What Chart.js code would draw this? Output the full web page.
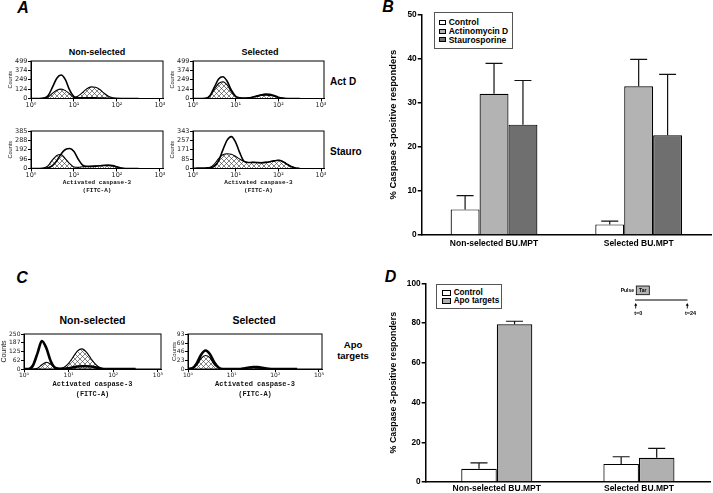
<!DOCTYPE html>
<html>
<head>
<meta charset="utf-8">
<script src="https://cdn.jsdelivr.net/npm/chart.js@4.4.1/dist/chart.umd.min.js"></script>
<style>
  body { margin: 0; background: #fff; }
  #page { position: relative; width: 713px; height: 493px; overflow: hidden; font-family: 'Liberation Sans', Arial, sans-serif; }
  canvas { position: absolute; }
  .lbl { position: absolute; font-weight: bold; white-space: nowrap; line-height: 1; transform: translate(-50%, -50%); color: #000; }
  .side { transform: translate(0, -50%); }
  .panel { font-size: 16px; font-style: italic; }
  .legend { position: absolute; box-sizing: border-box; border: 1px solid #555; background: #fff; }
  .legend-item { display: flex; align-items: center; font-weight: bold; white-space: nowrap; }
  .legend-color-box { display: inline-block; flex-shrink: 0; box-sizing: border-box; border: 1px solid #000; }
</style>
</head>
<body>
<div id="page">
  <div class="lbl panel" style="left:23px;top:7.5px">A</div>
  <div class="lbl panel" style="left:388px;top:7px">B</div>
  <div class="lbl panel" style="left:22px;top:278px">C</div>
  <div class="lbl panel" style="left:390.5px;top:277px">D</div>

  <div class="lbl" style="left:97px;top:51.7px;font-size:9px">Non-selected</div>
  <div class="lbl" style="left:260px;top:51.7px;font-size:9px">Selected</div>
  <div class="lbl side" style="left:330px;top:81.7px;font-size:10px">Act D</div>
  <div class="lbl side" style="left:330px;top:151.5px;font-size:10px">Stauro</div>
  <div class="lbl" style="left:92.5px;top:320px;font-size:10.5px">Non-selected</div>
  <div class="lbl" style="left:254px;top:320px;font-size:10.5px">Selected</div>
  <div class="lbl" style="left:353px;top:350.3px;font-size:9.5px;line-height:1.1;text-align:center">Apo<br>targets</div>

  <canvas id="histActdNonsel"></canvas>
  <canvas id="histStauroNonsel"></canvas>
  <canvas id="histActdSel"></canvas>
  <canvas id="histStauroSel"></canvas>
  <canvas id="histApoNonsel"></canvas>
  <canvas id="histApoSel"></canvas>

  <canvas id="barsB" width="333" height="258" style="left:380px;top:0px"></canvas>
  <canvas id="barsD" width="333" height="243" style="left:380px;top:250px"></canvas>

  <div id="legendB" class="legend" style="left:434px;top:11.5px;width:79px;height:37px;padding:5.5px 0 0 3.5px"></div>
  <div id="legendD" class="legend" style="left:435.7px;top:284px;width:66px;height:25px;padding:3.7px 0 0 5px"></div>
</div>

<script>
// Histogram x positions, in decades (log10 of FITC-A)
const LOG_X = [0.0, 0.1, 0.2, 0.3, 0.4, 0.5, 0.6, 0.7, 0.8, 0.9, 1.0, 1.1, 1.2, 1.3, 1.4, 1.5, 1.6, 1.7, 1.8, 1.9, 2.0, 2.1, 2.2, 2.3, 2.4, 2.5];
const DECADE_TICKS = [0, 1, 2, 3];
const DECADE_LABELS = ['10⁰', '10¹', '10²', '10³'];

// Counts: open = solid outline, hatched = cross-hatched histogram
const ACTD_NONSEL_OPEN    = [0, 0, 0, 5, 40, 150, 270, 312, 250, 110, 25, 10, 8, 8, 8, 8, 6, 5, 3, 1, 0, 0, 0, 0, 0, 0];
const ACTD_NONSEL_HATCHED = [0, 0, 0, 2, 20, 70, 110, 125, 105, 60, 12, 35, 80, 130, 155, 150, 120, 70, 30, 10, 2, 0, 0, 0, 0, 0];
const STAURO_NONSEL_OPEN    = [0, 0, 0, 2, 8, 30, 80, 150, 195, 206, 175, 95, 35, 22, 22, 24, 28, 33, 35, 30, 18, 5, 0, 0, 0, 0];
const STAURO_NONSEL_HATCHED = [0, 0, 0, 5, 30, 90, 135, 144, 100, 50, 15, 12, 18, 20, 22, 25, 28, 30, 30, 25, 12, 3, 0, 0, 0, 0];
const ACTD_SEL_OPEN    = [0, 0, 0, 3, 40, 150, 260, 289, 230, 110, 30, 8, 5, 8, 20, 35, 50, 58, 55, 40, 18, 5, 0, 0, 0, 0];
const ACTD_SEL_HATCHED = [0, 0, 0, 2, 30, 120, 200, 222, 180, 90, 25, 6, 4, 6, 15, 28, 40, 45, 42, 30, 12, 3, 0, 0, 0, 0];
const STAURO_SEL_OPEN    = [2, 3, 4, 5, 8, 20, 70, 170, 260, 292, 240, 140, 65, 55, 56, 55, 53, 56, 62, 70, 75, 65, 40, 18, 5, 0];
const STAURO_SEL_HATCHED = [0, 0, 0, 3, 10, 40, 90, 125, 135, 130, 110, 85, 65, 55, 56, 55, 53, 56, 62, 70, 75, 65, 40, 18, 5, 0];
const APO_NONSEL_OPEN    = [0, 0, 25, 110, 200, 150, 55, 8, 1, 1, 5, 12, 18, 20, 20, 18, 12, 4, 0, 0, 0, 0, 0, 0, 0, 0];
const APO_NONSEL_HATCHED = [0, 0, 0, 5, 30, 48, 35, 10, 4, 12, 40, 85, 130, 144, 120, 75, 35, 10, 2, 0, 0, 0, 0, 0, 0, 0];
const APO_SEL_OPEN    = [0, 2, 15, 38, 49, 40, 18, 4, 0, 0, 0, 0, 0, 2, 4, 5, 5, 3, 1, 0, 0, 0, 0, 0, 0, 0];
const APO_SEL_HATCHED = [0, 1, 10, 28, 36, 30, 12, 3, 0, 0, 0, 0, 0, 2, 4, 4, 3, 1, 0, 0, 0, 0, 0, 0, 0, 0];

const Y_TICKS_ACTD_NONSEL   = [0, 124, 249, 374, 499];
const Y_TICKS_STAURO_NONSEL = [0, 96, 192, 288, 385];
const Y_TICKS_ACTD_SEL      = [0, 124, 249, 374, 499];
const Y_TICKS_STAURO_SEL    = [0, 85, 171, 257, 343];
const Y_TICKS_APO_NONSEL    = [0, 62, 125, 187, 250];
const Y_TICKS_APO_SEL       = [0, 23, 46, 69, 93];

// Bar charts (mean and upper error)
const GROUPS = ['Non-selected BU.MPT', 'Selected BU.MPT'];
const CONTROL_B = [5.8, 2.4];
const CONTROL_B_ERR = [3.1, 0.75];
const ACTD_B = [32.0, 33.7];
const ACTD_B_ERR = [6.9, 6.1];
const STAURO_B = [25.0, 22.6];
const STAURO_B_ERR = [10.0, 13.8];
const CONTROL_D = [6.7, 9.1];
const CONTROL_D_ERR = [2.9, 3.6];
const APO_D = [79.4, 12.2];
const APO_D_ERR = [1.5, 4.7];

const SANS = "'Liberation Sans', Arial, sans-serif";
const AXIS_TITLE = ['Activated caspase-3', '(FITC-A)'];

// cross-hatch tile for the filled histograms
const hatchTile = document.createElement('canvas');
hatchTile.width = 5;
hatchTile.height = 5;
(function() {
    const g = hatchTile.getContext('2d');
    g.fillStyle = '#fff';
    g.fillRect(0, 0, 5, 5);
    g.strokeStyle = '#333';
    g.lineWidth = 0.6;
    g.beginPath();
    g.moveTo(0, 0); g.lineTo(5, 5);
    g.moveTo(5, 0); g.lineTo(0, 5);
    g.stroke();
})();

const framePlugin = {
    id: 'frame',
    afterDraw(chart) {
        const { ctx, chartArea: a } = chart;
        ctx.save();
        ctx.strokeStyle = '#000';
        ctx.lineWidth = 1;
        ctx.strokeRect(a.left, a.top, a.right - a.left, a.bottom - a.top);
        ctx.restore();
    }
};

/**
 * Builds one flow cytometry histogram; frame = plot box in page pixels.
 */
function makeHist(id, frame, cfg) {
    const padTop = 5, padRight = 6;
    const cv = document.getElementById(id);
    cv.width = Math.round(cfg.yW + frame.r - frame.l + padRight);
    cv.height = Math.round(padTop + frame.b - frame.t + cfg.xH);
    cv.style.left = (frame.l - cfg.yW) + 'px';
    cv.style.top = (frame.t - padTop) + 'px';
    const ctx = cv.getContext('2d');
    const hatch = ctx.createPattern(hatchTile, 'repeat');
    const toPts = arr => LOG_X.map((x, i) => ({ x: x, y: arr[i] }));

    return new Chart(ctx, {
        type: 'line',
        data: {
            datasets: [
                { data: toPts(cfg.hatched), fill: 'origin', backgroundColor: hatch, borderColor: '#000', borderWidth: 1.1, order: 2 },
                { data: toPts(cfg.open), fill: false, borderColor: '#000', borderWidth: cfg.lineW, order: 1 }
            ]
        },
        options: {
            responsive: false,
            animation: false,
            layout: { padding: { top: padTop, right: padRight, left: 0, bottom: 0 } },
            elements: {
                point: { radius: 0 },
                line: { cubicInterpolationMode: 'monotone', borderJoinStyle: 'round' }
            },
            plugins: { legend: { display: false }, tooltip: { enabled: false } },
            scales: {
                x: {
                    type: 'linear', min: 0, max: 3.07,
                    afterBuildTicks: s => { s.ticks = DECADE_TICKS.map(v => ({ value: v })); },
                    afterFit: s => { s.height = cfg.xH; },
                    ticks: { autoSkip: false, maxRotation: 0, padding: 0, color: '#222', font: { family: 'DejaVu Sans', size: cfg.tickSize },
                        callback: (v, i) => DECADE_LABELS[i] },
                    grid: { drawOnChartArea: false, tickLength: 3, color: '#000' },
                    border: { color: '#000', width: 1 },
                    title: { display: cfg.xTitle, text: AXIS_TITLE, padding: 0, color: '#111',
                        font: { family: "'Liberation Mono', 'DejaVu Sans Mono', monospace", weight: 'bold', size: cfg.titleSize, lineHeight: 1.42 } }
                },
                y: {
                    min: 0, max: cfg.yTicks[cfg.yTicks.length - 1],
                    afterBuildTicks: s => { s.ticks = cfg.yTicks.map(v => ({ value: v })); },
                    afterFit: s => { s.width = cfg.yW; },
                    ticks: { autoSkip: false, padding: 0.5, color: '#222', font: { family: 'DejaVu Sans', size: cfg.tickSize } },
                    grid: { drawOnChartArea: false, tickLength: 3, color: '#000' },
                    border: { color: '#000', width: 1 },
                    title: { display: true, text: 'Counts', padding: 0, color: '#222', font: { family: SANS, size: cfg.countsSize } }
                }
            }
        },
        plugins: [framePlugin]
    });
}

const errorBarsPlugin = {
    id: 'errorBars',
    afterDatasetsDraw(chart) {
        const { ctx } = chart;
        const yScale = chart.scales.y;
        ctx.save();
        ctx.strokeStyle = '#111';
        ctx.lineWidth = 1.2;
        chart.data.datasets.forEach((ds, i) => {
            chart.getDatasetMeta(i).data.forEach((bar, j) => {
                const yTop = yScale.getPixelForValue(ds.data[j] + ds.errorBars[j]);
                ctx.beginPath();
                ctx.moveTo(bar.x, bar.y);
                ctx.lineTo(bar.x, yTop);
                ctx.moveTo(bar.x - 8.5, yTop);
                ctx.lineTo(bar.x + 8.5, yTop);
                ctx.stroke();
            });
        });
        ctx.restore();
    }
};

// small timeline sketch in the corner of panel D
const pulseInsetPlugin = {
    id: 'pulseInset',
    afterDraw(chart) {
        const { ctx } = chart;
        ctx.save();
        ctx.fillStyle = '#000';
        ctx.strokeStyle = '#000';
        ctx.textBaseline = 'middle';
        ctx.textAlign = 'left';
        ctx.font = 'bold 5px ' + SANS;
        ctx.fillText('Pulse', 240.7, 41);
        ctx.fillStyle = '#b3b3b3';
        ctx.fillRect(256.3, 36, 13, 8.7);
        ctx.lineWidth = 0.8;
        ctx.strokeRect(256.3, 36, 13, 8.7);
        ctx.fillStyle = '#000';
        ctx.textAlign = 'center';
        ctx.font = 'bold 5px ' + SANS;
        ctx.fillText('Tar', 262.8, 40.6);

        ctx.lineWidth = 1.2;
        ctx.beginPath();
        ctx.moveTo(255, 50);
        ctx.lineTo(307.5, 50);
        ctx.stroke();
        [255.7, 307.3].forEach(x => {
            ctx.lineWidth = 0.9;
            ctx.beginPath();
            ctx.moveTo(x, 58.5);
            ctx.lineTo(x, 54);
            ctx.stroke();
            ctx.beginPath();
            ctx.moveTo(x - 1.5, 55.8);
            ctx.lineTo(x, 53);
            ctx.lineTo(x + 1.5, 55.8);
            ctx.closePath();
            ctx.fill();
        });
        ctx.font = 'bold 5.5px ' + SANS;
        ctx.fillText('t=0', 258.3, 63.7);
        ctx.fillText('t=24', 310.5, 63.7);
        ctx.restore();
    }
};

/**
 * Builds a bar chart with upper error bars.
 */
function makeBars(id, datasets, cfg) {
    const ctx = document.getElementById(id).getContext('2d');
    return new Chart(ctx, {
        type: 'bar',
        data: {
            labels: GROUPS,
            datasets: datasets.map(d => ({
                label: d.label,
                data: d.data,
                errorBars: d.err,
                backgroundColor: d.color,
                borderColor: '#000',
                borderWidth: 1.2,
                categoryPercentage: cfg.catPct,
                barPercentage: 1.0
            }))
        },
        options: {
            responsive: false,
            animation: false,
            layout: { padding: { top: cfg.padTop, right: cfg.padRight, bottom: cfg.padBottom, left: 0 } },
            plugins: { legend: { display: false }, tooltip: { enabled: false } },
            scales: {
                x: {
                    afterFit: s => { s.height = cfg.xH; },
                    grid: { display: false, drawTicks: false },
                    border: { color: '#000', width: 1.5 },
                    ticks: { padding: cfg.xPad, color: '#000', font: { family: SANS, weight: 'bold', size: 8.5 } }
                },
                y: {
                    min: 0, max: cfg.yMax,
                    afterFit: s => { s.width = cfg.yW; },
                    ticks: { stepSize: cfg.step, padding: 1, color: '#000', font: { family: SANS, weight: 'bold', size: 8.3 } },
                    grid: { drawOnChartArea: false, tickLength: 4, color: '#000', lineWidth: 1.5 },
                    border: { color: '#000', width: 1.5 },
                    title: { display: true, text: '% Caspase 3-positive responders', color: '#000',
                        padding: { top: cfg.titlePad, bottom: 0 }, font: { family: SANS, weight: 'bold', size: cfg.titleSize } }
                }
            }
        },
        plugins: cfg.plugins
    });
}

function generateLegend(chart, container, row) {
    container.innerHTML = '';
    chart.data.datasets.forEach(ds => {
        const item = document.createElement('div');
        item.className = 'legend-item';
        item.style.height = row.h + 'px';
        item.style.fontSize = row.font + 'px';
        item.innerHTML = `<span class="legend-color-box" style="background-color: ${ds.backgroundColor}; width: ${row.bw}px; height: ${row.bh}px; margin-right: ${row.gap}px"></span><span class="legend-label">${ds.label}</span>`;
        container.appendChild(item);
    });
}

document.addEventListener('DOMContentLoaded', function() {
    const histA = { yW: 24, tickSize: 6.5, countsSize: 5.5, titleSize: 6, lineW: 1.6 };
    makeHist('histActdNonsel', { l: 31, r: 163, t: 61, b: 98.5 },
        Object.assign({}, histA, { xH: 12.5, xTitle: false, yTicks: Y_TICKS_ACTD_NONSEL, open: ACTD_NONSEL_OPEN, hatched: ACTD_NONSEL_HATCHED }));
    makeHist('histStauroNonsel', { l: 31, r: 163, t: 131, b: 168.5 },
        Object.assign({}, histA, { xH: 26.5, xTitle: true, yTicks: Y_TICKS_STAURO_NONSEL, open: STAURO_NONSEL_OPEN, hatched: STAURO_NONSEL_HATCHED }));
    makeHist('histActdSel', { l: 193, r: 324, t: 61, b: 98.5 },
        Object.assign({}, histA, { xH: 12.5, xTitle: false, yTicks: Y_TICKS_ACTD_SEL, open: ACTD_SEL_OPEN, hatched: ACTD_SEL_HATCHED }));
    makeHist('histStauroSel', { l: 193, r: 324, t: 131, b: 168.5 },
        Object.assign({}, histA, { xH: 26.5, xTitle: true, yTicks: Y_TICKS_STAURO_SEL, open: STAURO_SEL_OPEN, hatched: STAURO_SEL_HATCHED }));

    const histC = { tickSize: 6, titleSize: 7, lineW: 2.6, xH: 30, xTitle: true };
    makeHist('histApoNonsel', { l: 24, r: 161, t: 334, b: 369 },
        Object.assign({}, histC, { yW: 24, countsSize: 7, yTicks: Y_TICKS_APO_NONSEL, open: APO_NONSEL_OPEN, hatched: APO_NONSEL_HATCHED }));
    makeHist('histApoSel', { l: 188, r: 322, t: 334, b: 369 },
        Object.assign({}, histC, { yW: 17, countsSize: 6, yTicks: Y_TICKS_APO_SEL, open: APO_SEL_OPEN, hatched: APO_SEL_HATCHED }));

    const chartB = makeBars('barsB', [
        { label: 'Control', data: CONTROL_B, err: CONTROL_B_ERR, color: '#ffffff' },
        { label: 'Actinomycin D', data: ACTD_B, err: ACTD_B_ERR, color: '#b3b3b3' },
        { label: 'Staurosporine', data: STAURO_B, err: STAURO_B_ERR, color: '#6f6f6f' }
    ], { catPct: 0.6, padTop: 14.3, padRight: 2, padBottom: 3, xH: 20, xPad: 4, yW: 41.7, yMax: 50, step: 10,
         titlePad: 8, titleSize: 9.4, plugins: [errorBarsPlugin] });

    const chartD = makeBars('barsD', [
        { label: 'Control', data: CONTROL_D, err: CONTROL_D_ERR, color: '#ffffff' },
        { label: 'Apo targets', data: APO_D, err: APO_D_ERR, color: '#b0b0b0' }
    ], { catPct: 0.5, padTop: 33.3, padRight: 3, padBottom: 1, xH: 10, xPad: 2, yW: 45.7, yMax: 100, step: 20,
         titlePad: 8.2, titleSize: 8.9, plugins: [errorBarsPlugin, pulseInsetPlugin] });

    generateLegend(chartB, document.getElementById('legendB'), { h: 8.8, font: 8.5, bw: 7.5, bh: 5, gap: 2.7 });
    generateLegend(chartD, document.getElementById('legendD'), { h: 8, font: 8.2, bw: 9, bh: 6, gap: 3 });
});
</script>
</body>
</html>
